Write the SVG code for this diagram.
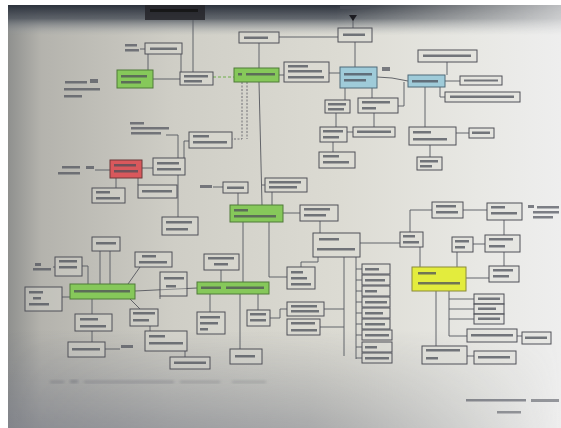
<svg xmlns="http://www.w3.org/2000/svg" width="561" height="428" viewBox="0 0 561 428">
<defs>
<linearGradient id="paperH" x1="0" y1="0" x2="1" y2="0">
<stop offset="0" stop-color="#8f908e"/>
<stop offset="0.06" stop-color="#b4b3ad"/>
<stop offset="0.3" stop-color="#cfcec6"/>
<stop offset="0.6" stop-color="#dcdbd3"/>
<stop offset="0.85" stop-color="#e8e8e4"/>
<stop offset="1" stop-color="#eeeeee"/>
</linearGradient>
<linearGradient id="topBand" x1="0" y1="0" x2="0" y2="1">
<stop offset="0" stop-color="#2c323c" stop-opacity="1"/>
<stop offset="0.45" stop-color="#4d535c" stop-opacity="0.85"/>
<stop offset="1" stop-color="#9aa0a6" stop-opacity="0"/>
</linearGradient>
<linearGradient id="topFade" x1="0" y1="0" x2="1" y2="0">
<stop offset="0" stop-color="#fff" stop-opacity="1"/>
<stop offset="0.6" stop-color="#fff" stop-opacity="1"/>
<stop offset="1" stop-color="#fff" stop-opacity="0.25"/>
</linearGradient>
<mask id="topMask"><rect x="0" y="0" width="561" height="40" fill="url(#topFade)"/></mask>
<linearGradient id="botBand" x1="0" y1="0" x2="0" y2="1">
<stop offset="0" stop-color="#7d8089" stop-opacity="0"/>
<stop offset="1" stop-color="#7d8089" stop-opacity="0.75"/>
</linearGradient>
<linearGradient id="botFade" x1="0" y1="0" x2="1" y2="0">
<stop offset="0" stop-color="#fff" stop-opacity="1"/>
<stop offset="0.55" stop-color="#fff" stop-opacity="0.7"/>
<stop offset="1" stop-color="#fff" stop-opacity="0"/>
</linearGradient>
<mask id="botMask"><rect x="0" y="330" width="561" height="98" fill="url(#botFade)"/></mask>
<filter id="soft" x="-5%" y="-5%" width="110%" height="110%"><feGaussianBlur stdDeviation="0.6"/></filter>
<filter id="softer" x="-5%" y="-5%" width="110%" height="110%"><feGaussianBlur stdDeviation="1.5"/></filter>
</defs>
<style>
.box{fill:#dedcd4;fill-opacity:0.35;stroke:#4f5158;stroke-width:1}
.g{fill:#86c85a;stroke:#4f7a3a;stroke-width:1}
.r{fill:#d9585c;stroke:#6d3a3a;stroke-width:1}
.b{fill:#9fcbd9;stroke:#4f6a78;stroke-width:1}
.y{fill:#e3ec3c;stroke:#8a8a3a;stroke-width:1}
.tx{fill:#4c4f5a;opacity:0.75}
.lb{fill:#4c4f5a;opacity:0.7}
.c{fill:none;stroke:#55575e;stroke-width:0.9}
.cd{fill:none;stroke:#66686e;stroke-width:0.9;stroke-dasharray:2 1.5}
.cg{fill:none;stroke:#6fae4a;stroke-width:1;stroke-dasharray:3 2}
</style>

<rect x="0" y="0" width="561" height="428" fill="#ffffff"/>
<rect x="8" y="5" width="553" height="423" fill="url(#paperH)"/>
<rect x="8" y="5" width="553" height="30" fill="url(#topBand)" mask="url(#topMask)"/>
<rect x="8" y="330" width="553" height="98" fill="url(#botBand)" mask="url(#botMask)"/>

<g filter="url(#soft)">
<g id="connectors">
<path class="c" d="M193 20 V72"/>
<path class="c" d="M148 54 V70"/>
<path class="c" d="M181 54 V72"/>
<path class="c" d="M140 49 H145"/>
<path class="c" d="M153 79 H180"/>
<path class="cg" d="M213 77 H234"/>
<path class="c" d="M259 43 V68"/>
<path class="c" d="M279 37 H338"/>
<path class="c" d="M279 75 H284"/>
<path class="c" d="M329 73 H340"/>
<path class="c" d="M353 28 V17"/>
<path class="c" d="M355 42 V67"/>
<path class="c" d="M377 77 L392 78 L408 81"/>
<path class="c" d="M345 88 V100"/>
<path class="c" d="M372 88 V98"/>
<path class="c" d="M398 106 H404 V82"/>
<path class="c" d="M336 113 V127"/>
<path class="c" d="M374 113 V127"/>
<path class="c" d="M347 132 H353"/>
<path class="c" d="M447 75 V62"/>
<path class="c" d="M445 81 H460"/>
<path class="c" d="M440 87 V97 H445"/>
<path class="c" d="M425 87 V127"/>
<path class="c" d="M456 133 H469"/>
<path class="c" d="M430 145 V157"/>
<path class="c" d="M333 142 V152"/>
<path class="cd" d="M242 82 V139 H232"/>
<path class="cd" d="M247 82 V139"/>
<path class="c" d="M259 82 L262 205"/>
<path class="c" d="M189 141 H184 V158"/>
<path class="c" d="M166 135 H178 V158"/>
<path class="c" d="M142 168 H153"/>
<path class="c" d="M116 178 V188"/>
<path class="c" d="M138 178 V185"/>
<path class="c" d="M178 175 V217"/>
<path class="c" d="M213 187 H223"/>
<path class="c" d="M238 193 V205"/>
<path class="c" d="M265 185 H262"/>
<path class="c" d="M272 192 V205"/>
<path class="c" d="M283 213 H300"/>
<path class="c" d="M320 221 V233"/>
<path class="c" d="M360 243 H400"/>
<path class="c" d="M410 232 V210 H432"/>
<path class="c" d="M463 210 H487"/>
<path class="c" d="M504 220 V235"/>
<path class="c" d="M473 244 H485"/>
<path class="c" d="M457 252 V267"/>
<path class="c" d="M420 247 V267"/>
<path class="c" d="M504 252 V266"/>
<path class="c" d="M466 278 H489"/>
<path class="c" d="M436 291 V346"/>
<path class="c" d="M449 291 V336 H467"/>
<path class="c" d="M449 299 H474 M449 309 H474 M449 319 H474"/>
<path class="c" d="M517 336 H522"/>
<path class="c" d="M467 356 H474"/>
<path class="c" d="M344 257 V356"/>
<path class="c" d="M356 257 V359"/>
<path class="c" d="M356 269 H362 M356 280 H362 M356 291 H362 M356 302 H362 M356 313 H362 M356 324 H362 M356 335 H362 M356 347 H362 M356 358 H362"/>
<path class="c" d="M344 309 H324 M344 327 H320"/>
<path class="c" d="M318 257 V262 H301 V267"/>
<path class="c" d="M243 222 V282"/>
<path class="c" d="M269 222 V277 H287"/>
<path class="c" d="M221 270 V282"/>
<path class="c" d="M210 294 V312"/>
<path class="c" d="M240 294 V349"/>
<path class="c" d="M258 294 V310"/>
<path class="c" d="M270 318 H280 V309 H287"/>
<path class="c" d="M135 291 L197 288"/>
<path class="c" d="M100 251 V284 M110 251 V284"/>
<path class="c" d="M128 284 L140 267"/>
<path class="c" d="M82 266 H88 V284"/>
<path class="c" d="M53 267 H55"/>
<path class="c" d="M62 297 H70"/>
<path class="c" d="M92 299 V314"/>
<path class="c" d="M130 299 L140 309"/>
<path class="c" d="M160 296 V299"/>
<path class="c" d="M92 331 V342"/>
<path class="c" d="M105 349 H120"/>
<path class="c" d="M150 326 V331"/>
<path class="c" d="M185 351 V357"/>
<path class="c" d="M95 170 H110"/>
</g>

<path d="M349 15 L357 15 L353 21 Z" fill="#1e1e22"/>

<g id="n1"><rect x="145" y="5" width="60" height="15" fill="#25272c" opacity="0.85"/><rect x="150" y="9" width="48" height="3" fill="#111" opacity="0.8"/></g>
<g id="n2"><rect class="lb" x="340" y="6" width="30" height="3"/></g>
<g id="n3"><rect class="box" x="145" y="43" width="37" height="11"/><rect class="tx" x="150" y="47.5" width="27" height="2.5"/></g>
<g id="n3l"><rect class="lb" x="125" y="44" width="12" height="2.5"/><rect class="lb" x="125" y="49" width="14" height="2.5"/></g>
<g id="n4"><rect class="g" x="117" y="70" width="36" height="18"/><rect class="tx" x="121" y="75" width="26" height="2.5"/><rect class="tx" x="121" y="81" width="20" height="2.5"/></g>
<g id="n5"><rect class="box" x="180" y="72" width="33" height="13"/><rect class="tx" x="184" y="75" width="24" height="2.5"/><rect class="tx" x="184" y="80" width="18" height="2.5"/></g>
<g id="n6"><rect class="lb" x="65" y="81" width="22" height="2.5"/><rect class="lb" x="90" y="79" width="8" height="4"/><rect class="lb" x="64" y="88" width="36" height="2.5"/><rect class="lb" x="64" y="95" width="18" height="2.5"/></g>
<g id="n7"><rect class="g" x="234" y="68" width="45" height="14"/><rect class="tx" x="238" y="73" width="4" height="2.5"/><rect class="tx" x="246" y="73" width="29" height="2.5"/></g>
<g id="n8"><rect class="box" x="239" y="32" width="40" height="11"/><rect class="tx" x="244" y="36.5" width="24" height="2.5"/></g>
<g id="n9"><rect class="box" x="284" y="62" width="45" height="20"/><rect class="tx" x="288" y="65" width="20" height="2.5"/><rect class="tx" x="288" y="70" width="34" height="2.5"/><rect class="tx" x="288" y="76" width="36" height="2.5"/></g>
<g id="n10"><rect class="box" x="338" y="28" width="34" height="14"/><rect class="tx" x="343" y="33.5" width="22" height="2.5"/></g>
<g id="n11"><rect class="b" x="340" y="67" width="37" height="21"/><rect class="tx" x="344" y="73" width="28" height="2.5"/><rect class="tx" x="344" y="79" width="22" height="2.5"/></g>
<g id="n12"><rect class="lb" x="382" y="67" width="8" height="4"/></g>
<g id="n13"><rect class="b" x="408" y="75" width="37" height="12"/><rect class="tx" x="412" y="80" width="26" height="2.5"/></g>
<g id="n14"><rect class="box" x="418" y="50" width="59" height="12"/><rect class="tx" x="423" y="54.5" width="48" height="2.5"/></g>
<g id="n15"><rect class="box" x="460" y="76" width="42" height="9"/><rect class="tx" x="464" y="79.5" width="34" height="2"/></g>
<g id="n16"><rect class="box" x="445" y="92" width="75" height="10"/><rect class="tx" x="450" y="95.5" width="64" height="2.5"/></g>
<g id="n17"><rect class="box" x="325" y="100" width="25" height="13"/><rect class="tx" x="328" y="103" width="18" height="2.5"/><rect class="tx" x="328" y="108" width="16" height="2.5"/></g>
<g id="n18"><rect class="box" x="358" y="98" width="40" height="15"/><rect class="tx" x="362" y="101" width="28" height="2.5"/><rect class="tx" x="362" y="107" width="14" height="2.5"/></g>
<g id="n19"><rect class="box" x="320" y="127" width="27" height="15"/><rect class="tx" x="323" y="130" width="20" height="2.5"/><rect class="tx" x="323" y="136" width="16" height="2.5"/></g>
<g id="n20"><rect class="box" x="353" y="127" width="42" height="10"/><rect class="tx" x="357" y="130.5" width="34" height="2.5"/></g>
<g id="n21"><rect class="box" x="409" y="127" width="47" height="18"/><rect class="tx" x="413" y="131" width="18" height="2.5"/><rect class="tx" x="413" y="138" width="34" height="2.5"/></g>
<g id="n22"><rect class="box" x="469" y="128" width="25" height="10"/><rect class="tx" x="472" y="131.5" width="18" height="2.5"/></g>
<g id="n23"><rect class="box" x="417" y="157" width="25" height="13"/><rect class="tx" x="420" y="160" width="18" height="2.5"/><rect class="tx" x="420" y="165" width="12" height="2.5"/></g>
<g id="n24"><rect class="box" x="319" y="152" width="36" height="16"/><rect class="tx" x="323" y="155" width="16" height="2.5"/><rect class="tx" x="323" y="161" width="26" height="2.5"/></g>
<g id="n25"><rect class="box" x="189" y="132" width="43" height="16"/><rect class="tx" x="193" y="135" width="16" height="2.5"/><rect class="tx" x="193" y="141" width="34" height="2.5"/></g>
<g id="n26"><rect class="lb" x="130" y="122" width="14" height="2.5"/><rect class="lb" x="131" y="127" width="38" height="2.5"/><rect class="lb" x="131" y="132" width="30" height="2.5"/></g>
<g id="n27"><rect class="r" x="110" y="160" width="32" height="18"/><rect class="tx" x="114" y="164" width="22" height="2.5"/><rect class="tx" x="114" y="170" width="24" height="2.5"/></g>
<g id="n28"><rect class="box" x="153" y="158" width="32" height="17"/><rect class="tx" x="157" y="162" width="22" height="2.5"/><rect class="tx" x="157" y="168" width="24" height="2.5"/></g>
<g id="n29"><rect class="lb" x="62" y="166" width="18" height="2.5"/><rect class="lb" x="58" y="172" width="22" height="2.5"/><rect class="lb" x="86" y="166" width="8" height="3"/></g>
<g id="n30"><rect class="box" x="92" y="188" width="33" height="15"/><rect class="tx" x="96" y="191" width="14" height="2.5"/><rect class="tx" x="96" y="197" width="24" height="2.5"/></g>
<g id="n31"><rect class="box" x="138" y="185" width="39" height="13"/><rect class="tx" x="142" y="190" width="30" height="2.5"/></g>
<g id="n32"><rect class="box" x="162" y="217" width="36" height="18"/><rect class="tx" x="166" y="221" width="26" height="2.5"/><rect class="tx" x="166" y="228" width="22" height="2.5"/></g>
<g id="n33"><rect class="lb" x="200" y="185" width="12" height="3"/><rect class="box" x="223" y="182" width="25" height="11"/><rect class="tx" x="227" y="186.5" width="17" height="2.5"/></g>
<g id="n34"><rect class="g" x="230" y="205" width="53" height="17"/><rect class="tx" x="234" y="209" width="14" height="2.5"/><rect class="tx" x="234" y="215" width="42" height="2.5"/></g>
<g id="n35"><rect class="box" x="265" y="178" width="42" height="14"/><rect class="tx" x="269" y="181" width="32" height="2.5"/><rect class="tx" x="269" y="186" width="28" height="2.5"/></g>
<g id="n36"><rect class="box" x="300" y="205" width="38" height="16"/><rect class="tx" x="304" y="208" width="26" height="2.5"/><rect class="tx" x="304" y="214" width="22" height="2.5"/></g>
<g id="n37"><rect class="box" x="313" y="233" width="47" height="24"/><rect class="tx" x="319" y="238" width="20" height="2.5"/><rect class="tx" x="317" y="248" width="38" height="2.5"/></g>
<g id="n38"><rect class="box" x="400" y="232" width="23" height="15"/><rect class="tx" x="403" y="235" width="12" height="2.5"/><rect class="tx" x="403" y="241" width="16" height="2.5"/></g>
<g id="n39"><rect class="box" x="432" y="202" width="31" height="16"/><rect class="tx" x="436" y="205" width="20" height="2.5"/><rect class="tx" x="436" y="211" width="22" height="2.5"/></g>
<g id="n40"><rect class="box" x="487" y="203" width="35" height="17"/><rect class="tx" x="491" y="206" width="14" height="2.5"/><rect class="tx" x="491" y="212" width="26" height="2.5"/></g>
<g id="n40l"><rect class="lb" x="528" y="205" width="6" height="3"/><rect class="lb" x="537" y="206" width="22" height="2.5"/><rect class="lb" x="533" y="211" width="26" height="2.5"/><rect class="lb" x="533" y="216" width="20" height="2.5"/></g>
<g id="n41"><rect class="box" x="452" y="237" width="21" height="15"/><rect class="tx" x="455" y="240" width="14" height="2.5"/><rect class="tx" x="455" y="246" width="10" height="2.5"/></g>
<g id="n42"><rect class="box" x="485" y="235" width="35" height="17"/><rect class="tx" x="489" y="238" width="24" height="2.5"/><rect class="tx" x="489" y="245" width="16" height="2.5"/></g>
<g id="n43"><rect class="y" x="412" y="267" width="54" height="24"/><rect class="tx" x="418" y="272" width="18" height="2.5"/><rect class="tx" x="418" y="282" width="42" height="2.5"/></g>
<g id="n44"><rect class="box" x="489" y="266" width="30" height="16"/><rect class="tx" x="493" y="269" width="20" height="2.5"/><rect class="tx" x="493" y="275" width="16" height="2.5"/></g>
<g id="n45"><rect class="box" x="474" y="294" width="30" height="10"/><rect class="box" x="474" y="304" width="30" height="10"/><rect class="box" x="474" y="314" width="30" height="10"/><rect class="tx" x="478" y="297.5" width="22" height="2.5"/><rect class="tx" x="478" y="307.5" width="18" height="2.5"/><rect class="tx" x="478" y="317.5" width="22" height="2.5"/></g>
<g id="n46"><rect class="box" x="467" y="329" width="50" height="13"/><rect class="tx" x="471" y="334" width="42" height="2.5"/></g>
<g id="n47"><rect class="box" x="522" y="332" width="29" height="12"/><rect class="tx" x="525" y="336.5" width="22" height="2.5"/></g>
<g id="n48"><rect class="box" x="422" y="346" width="45" height="18"/><rect class="tx" x="426" y="349" width="34" height="2.5"/><rect class="tx" x="426" y="357" width="12" height="2.5"/></g>
<g id="n49"><rect class="box" x="474" y="351" width="42" height="13"/><rect class="tx" x="478" y="356" width="32" height="2.5"/></g>
<g id="n50"><rect class="box" x="362" y="264" width="28" height="10"/><rect class="box" x="362" y="275" width="28" height="10"/><rect class="box" x="362" y="286" width="28" height="10"/><rect class="box" x="362" y="297" width="28" height="10"/><rect class="box" x="362" y="308" width="28" height="10"/><rect class="box" x="362" y="319" width="28" height="10"/><rect class="box" x="362" y="330" width="30" height="10"/><rect class="box" x="362" y="342" width="30" height="10"/><rect class="box" x="362" y="353" width="30" height="10"/>
<rect class="tx" x="365" y="268" width="14" height="2.5"/><rect class="tx" x="365" y="279" width="20" height="2.5"/><rect class="tx" x="365" y="290" width="12" height="2.5"/><rect class="tx" x="365" y="301" width="22" height="2.5"/><rect class="tx" x="365" y="312" width="18" height="2.5"/><rect class="tx" x="365" y="323" width="20" height="2.5"/><rect class="tx" x="365" y="334" width="24" height="2.5"/><rect class="tx" x="365" y="346" width="12" height="2.5"/><rect class="tx" x="365" y="357" width="24" height="2.5"/></g>
<g id="n51"><rect class="box" x="287" y="302" width="37" height="14"/><rect class="tx" x="291" y="305" width="26" height="2.5"/><rect class="tx" x="291" y="310" width="28" height="2.5"/></g>
<g id="n52"><rect class="box" x="287" y="319" width="33" height="16"/><rect class="tx" x="291" y="322" width="24" height="2.5"/><rect class="tx" x="291" y="329" width="26" height="2.5"/></g>
<g id="n53"><rect class="box" x="287" y="267" width="28" height="22"/><rect class="tx" x="291" y="271" width="12" height="2.5"/><rect class="tx" x="291" y="277" width="16" height="2.5"/><rect class="tx" x="291" y="283" width="20" height="2.5"/></g>
<g id="n54"><rect class="g" x="197" y="282" width="72" height="12"/><rect class="tx" x="201" y="286.5" width="20" height="2.5"/><rect class="tx" x="226" y="286.5" width="38" height="2.5"/></g>
<g id="n55"><rect class="box" x="204" y="254" width="35" height="16"/><rect class="tx" x="208" y="257" width="26" height="2.5"/><rect class="tx" x="214" y="263" width="14" height="2.5"/></g>
<g id="n56"><rect class="box" x="197" y="312" width="28" height="22"/><rect class="tx" x="200" y="316" width="20" height="2.5"/><rect class="tx" x="200" y="322" width="18" height="2.5"/><rect class="tx" x="200" y="328" width="8" height="2.5"/></g>
<g id="n57"><rect class="box" x="247" y="310" width="23" height="16"/><rect class="tx" x="250" y="313" width="16" height="2.5"/><rect class="tx" x="250" y="319" width="16" height="2.5"/></g>
<g id="n58"><rect class="box" x="230" y="349" width="32" height="15"/><rect class="tx" x="235" y="355" width="20" height="2.5"/></g>
<g id="n59"><rect class="g" x="70" y="284" width="65" height="15"/><rect class="tx" x="74" y="290" width="56" height="2.5"/></g>
<g id="n60"><rect class="box" x="92" y="237" width="28" height="14"/><rect class="tx" x="96" y="242" width="20" height="2.5"/></g>
<g id="n61"><rect class="box" x="135" y="252" width="37" height="15"/><rect class="tx" x="142" y="255" width="14" height="2.5"/><rect class="tx" x="139" y="261" width="28" height="2.5"/></g>
<g id="n62"><rect class="lb" x="35" y="263" width="6" height="3"/><rect class="lb" x="33" y="268" width="18" height="2.5"/><rect class="box" x="55" y="257" width="27" height="19"/><rect class="tx" x="59" y="260" width="18" height="2.5"/><rect class="tx" x="59" y="266" width="18" height="2.5"/></g>
<g id="n63"><rect class="box" x="25" y="287" width="37" height="24"/><rect class="tx" x="29" y="291" width="14" height="2.5"/><rect class="tx" x="33" y="297" width="8" height="2.5"/><rect class="tx" x="29" y="303" width="20" height="2.5"/></g>
<g id="n64"><rect class="box" x="160" y="272" width="27" height="24"/><rect class="tx" x="164" y="277" width="20" height="2.5"/><rect class="tx" x="166" y="285" width="10" height="2.5"/></g>
<g id="n65"><rect class="box" x="75" y="314" width="37" height="17"/><rect class="tx" x="80" y="318" width="18" height="2.5"/><rect class="tx" x="80" y="325" width="26" height="2.5"/></g>
<g id="n66"><rect class="box" x="130" y="309" width="28" height="17"/><rect class="tx" x="133" y="312" width="22" height="2.5"/><rect class="tx" x="133" y="319" width="16" height="2.5"/></g>
<g id="n67"><rect class="box" x="68" y="342" width="37" height="15"/><rect class="tx" x="72" y="348" width="28" height="2.5"/><rect class="lb" x="121" y="345" width="12" height="3"/></g>
<g id="n68"><rect class="box" x="145" y="331" width="42" height="20"/><rect class="tx" x="149" y="335" width="16" height="2.5"/><rect class="tx" x="149" y="342" width="34" height="2.5"/></g>
<g id="n69"><rect class="box" x="170" y="357" width="40" height="12"/><rect class="tx" x="174" y="361.5" width="32" height="2.5"/></g>

<g id="notes" filter="url(#softer)">
<rect x="50" y="381" width="14" height="2" fill="#6e7078" opacity="0.6"/>
<rect x="70" y="380" width="8" height="3" fill="#6e7078" opacity="0.6"/>
<rect x="84" y="381" width="90" height="2" fill="#6e7078" opacity="0.55"/>
<rect x="180" y="381" width="40" height="2" fill="#6e7078" opacity="0.45"/>
<rect x="232" y="381" width="34" height="2" fill="#6e7078" opacity="0.4"/>
</g>
<g id="signature">
<rect x="466" y="399" width="60" height="2.5" fill="#4c4f5a" opacity="0.6"/>
<rect x="531" y="399" width="28" height="3" fill="#4c4f5a" opacity="0.55"/>
<rect x="497" y="411" width="24" height="2.5" fill="#4c4f5a" opacity="0.55"/>
</g>
</g>
</svg>
